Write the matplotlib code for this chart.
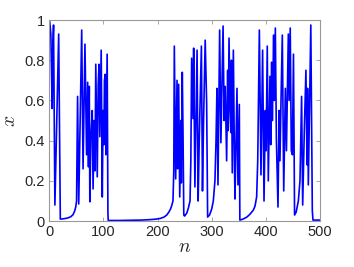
import matplotlib
matplotlib.use("Agg")
import matplotlib.pyplot as plt

# Vertices of the iterated sequence x_n
n_vals = [0, 1, 3, 5.5, 6.5, 8, 10.5, 17.5, 20.5,
          25, 30, 35, 40, 44, 47, 49, 50.5, 52.4, 54.5,
          60, 62.5, 66, 69, 71, 72.5, 74, 75, 77, 79.5, 81, 83, 84.5, 86, 88.7, 90.5, 92, 93.5,
          94.5, 96, 98, 99.5, 101, 102, 103.5, 104.7, 107, 108.4, 109,
          130, 150, 170, 185, 195, 205, 212, 217, 221, 224, 226, 228.5, 230,
          231, 233.5, 236, 237, 239, 241, 243, 244, 245.7, 247, 248.5,
          250, 254, 257, 260, 261.5, 263, 265.5, 266.7, 269, 273, 275, 277, 281, 283, 285, 288, 290.7, 292.5,
          296, 300, 303, 306, 308, 309.7, 311.6, 314.7, 317, 321, 323, 325, 327.6, 329.5, 330.5, 332,
          334, 335.5, 336.5, 338, 340, 342, 343, 346.7, 348.5, 351, 352,
          358, 365, 371, 377, 380, 383, 385,
          388, 391, 394, 396.6, 399, 400.5, 402.6, 404.5, 406, 407.6, 409, 410.7, 412, 414.4, 415.5, 417.5,
          419.5, 422.4, 424.5, 426, 428, 430.4, 433, 436, 438, 441.5, 443, 445, 447, 449, 451, 453,
          456, 460, 463, 466, 468, 471, 474, 476, 477, 478.4, 483, 485.8, 487, 500]
x_vals = [1.0, 0.99, 0.93, 0.56, 0.85, 0.975, 0.08, 0.93, 0.01,
          0.011, 0.013, 0.016, 0.022, 0.032, 0.05, 0.07, 0.1, 0.62, 0.085,
          0.95, 0.26, 0.88, 0.33, 0.69, 0.27, 0.67, 0.096, 0.42, 0.55, 0.16, 0.5, 0.25, 0.78, 0.22, 0.68, 0.78, 0.42,
          0.6, 0.85, 0.12, 0.55, 0.38, 0.7, 0.73, 0.33, 0.83, 0.04, 0.003,
          0.003, 0.004, 0.005, 0.007, 0.009, 0.013, 0.02, 0.03, 0.045, 0.06, 0.075, 0.1, 0.25,
          0.87, 0.21, 0.70, 0.26, 0.68, 0.12, 0.5, 0.19, 0.74, 0.45, 0.03,
          0.025, 0.04, 0.065, 0.1, 0.3, 0.81, 0.51, 0.86, 0.17, 0.85, 0.10, 0.4, 0.87, 0.15, 0.5, 0.90, 0.585, 0.02,
          0.03, 0.06, 0.1, 0.2, 0.4, 0.66, 0.18, 0.95, 0.39, 0.97, 0.5, 0.67, 0.3, 0.75, 0.45, 0.91,
          0.55, 0.44, 0.8, 0.24, 0.85, 0.3, 0.11, 0.66, 0.18, 0.58, 0.005,
          0.01, 0.02, 0.035, 0.055, 0.075, 0.12, 0.3,
          0.95, 0.23, 0.85, 0.10, 0.55, 0.35, 0.87, 0.20, 0.45, 0.72, 0.38, 0.79, 0.5, 0.925, 0.6, 0.96,
          0.4, 0.07, 0.55, 0.3, 0.6, 0.925, 0.15, 0.66, 0.35, 0.93, 0.6, 0.96, 0.35, 0.33, 0.83, 0.03,
          0.045, 0.1, 0.2, 0.62, 0.08, 0.45, 0.75, 0.28, 0.66, 0.18, 0.975, 0.05, 0.005, 0.005]

x_ticks = [0, 100, 200, 300, 400, 500]
y_ticks = [0, 0.2, 0.4, 0.6, 0.8, 1]
y_ticklabels = ["0", "0.2", "0.4", "0.6", "0.8", "1"]

plt.rcParams['font.family'] = ['Liberation Sans', 'DejaVu Sans']
plt.rcParams['mathtext.fontset'] = 'cm'

fig = plt.figure(figsize=(3.54, 2.67), dpi=100)
ax = fig.add_axes([0.139, 0.172, 0.765, 0.753])
ax.plot(n_vals, x_vals, color=(0, 0, 1), lw=1.2)
ax.set_xlim(0, 500)
ax.set_ylim(0, 1)
ax.set_xticks(x_ticks)
ax.set_yticks(y_ticks)
ax.set_yticklabels(y_ticklabels)
gray = (0.15, 0.15, 0.15)
for s in ax.spines.values():
    s.set_color((0.6, 0.6, 0.6))
    s.set_linewidth(0.8)
ax.tick_params(direction='in', length=3, width=0.6, color=(0.6, 0.6, 0.6),
               labelsize=10.5, labelcolor=gray, top=True, right=True, pad=3)
ax.set_xlabel('$n$', fontsize=14, color=gray, labelpad=0)
ax.set_ylabel('$x$', fontsize=14, color=gray, labelpad=4)
fig.savefig('out.png', dpi=100)
